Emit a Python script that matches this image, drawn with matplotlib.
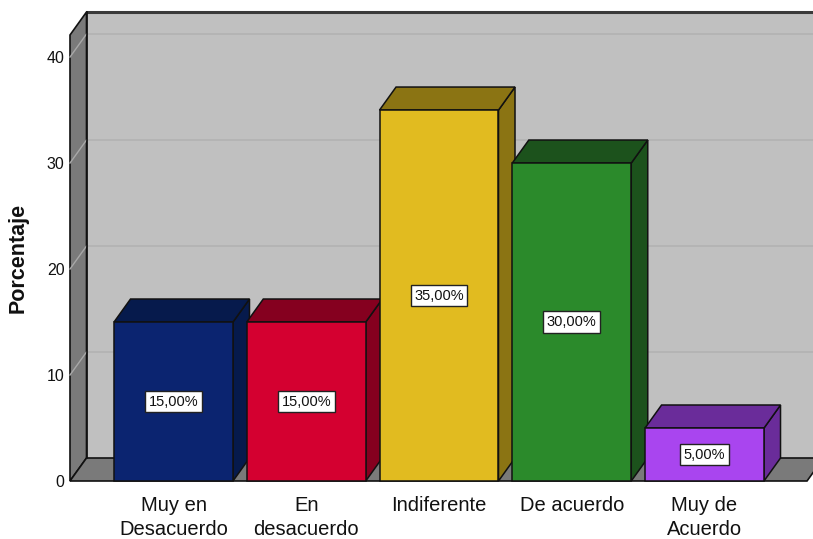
import matplotlib
matplotlib.use("Agg")
import matplotlib.pyplot as plt
from matplotlib.patches import Polygon, Rectangle

categories = ["Muy en\nDesacuerdo", "En\ndesacuerdo", "Indiferente", "De acuerdo", "Muy de\nAcuerdo"]
values = [15.0, 15.0, 35.0, 30.0, 5.0]
value_labels = ["15,00%", "15,00%", "35,00%", "30,00%", "5,00%"]
front_colors = ["#0b2470", "#d40030", "#e1bb20", "#2b8a2b", "#a945ef"]
dark_colors = ["#061a4c", "#85001f", "#8b7413", "#1c521c", "#6a2c9a"]
yticks = [0, 10, 20, 30, 40]

plt.rcParams['font.family'] = ['Liberation Sans', 'DejaVu Sans']

W, H = 813, 539
fig = plt.figure(figsize=(W / 100, H / 100), dpi=100)
ax = fig.add_axes([70 / W, (H - 481) / H, (W - 70) / W, (481 - 12) / H])

xl, xr = -0.7797, 4.817
ytop = 44.25
ax.set_xlim(xl, xr)
ax.set_ylim(0, ytop)

ddx = 16.5 / 132.75
ddy = 23 / 10.6
bw = 0.896
floor_right = 4.772

wall_gray = "#7a7a7a"
back_gray = "#c0c0c0"

# back wall
ax.add_patch(Polygon([(xl + ddx, ddy), (xr + 1, ddy), (xr + 1, ytop), (xl + ddx, ytop)],
                     closed=True, facecolor=back_gray, edgecolor="none", clip_on=False, zorder=0))
# gridlines on back wall and left wall
for v in yticks[1:]:
    ax.plot([xl + ddx, xr + 1], [v + ddy, v + ddy], color="#b2b2b2", lw=1.2, zorder=1, clip_on=False)
# left wall
ax.add_patch(Polygon([(xl, 0), (xl + ddx, ddy), (xl + ddx, ytop), (xl, ytop - ddy)],
                     closed=True, facecolor=wall_gray, edgecolor="#111111", lw=1.2,
                     clip_on=False, zorder=1))
for v in yticks[1:]:
    ax.plot([xl, xl + ddx], [v, v + ddy], color="#a8a8a8", lw=1.0, zorder=2, clip_on=False)
# floor
ax.add_patch(Polygon([(xl, 0), (floor_right, 0), (floor_right + ddx, ddy), (xl + ddx, ddy)],
                     closed=True, facecolor=wall_gray, edgecolor="#111111", lw=1.2,
                     clip_on=False, zorder=1))
# top border of back wall
ax.plot([xl + ddx, xr + 1], [ytop, ytop], color="#3a3a3a", lw=2.2, zorder=3, clip_on=False)
ax.plot([xl + ddx, xl + ddx], [ddy, ytop], color="#111111", lw=1.2, zorder=3, clip_on=False)

# bars
for i, (v, fc, dc, lab) in enumerate(zip(values, front_colors, dark_colors, value_labels)):
    x0 = i - bw / 2
    x1 = i + bw / 2
    ax.add_patch(Polygon([(x1, 0), (x1 + ddx, ddy), (x1 + ddx, v + ddy), (x1, v)],
                         closed=True, facecolor=dc, edgecolor="#111111", lw=1.1, zorder=4, clip_on=False))
    ax.add_patch(Polygon([(x0, v), (x1, v), (x1 + ddx, v + ddy), (x0 + ddx, v + ddy)],
                         closed=True, facecolor=dc, edgecolor="#111111", lw=1.1, zorder=4, clip_on=False))
    ax.add_patch(Rectangle((x0, 0), bw, v, facecolor=fc, edgecolor="#111111", lw=1.1,
                           zorder=5, clip_on=False))
    ax.text(i, v / 2, lab, ha="center", va="center", fontsize=10.5, color="#111111", zorder=6,
            bbox=dict(boxstyle="square,pad=0.25", facecolor="white", edgecolor="#222222", lw=1.0))

ax.set_yticks(yticks)
ax.set_yticklabels([str(t) for t in yticks], fontsize=11.5)
ax.set_xticks(range(len(categories)))
ax.set_xticklabels(categories, fontsize=14.5, linespacing=1.3)
ax.tick_params(axis="both", length=0, colors="#111111")
ax.tick_params(axis="y", pad=4)
ax.tick_params(axis="x", pad=11)
for s in ax.spines.values():
    s.set_visible(False)
ax.patch.set_visible(False)

fig.text(18 / W, 1 - 258 / H, "Porcentaje", rotation=90, ha="center", va="center",
         fontsize=15.5, fontweight="bold", color="#111111")

fig.savefig("out.png", dpi=100)
